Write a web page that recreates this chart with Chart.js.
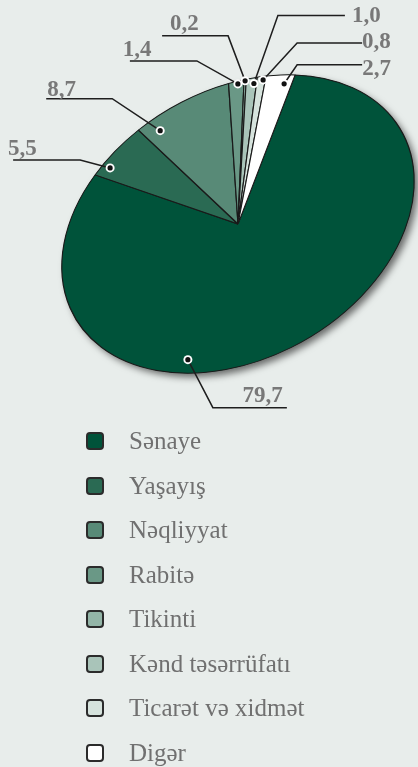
<!DOCTYPE html>
<html>
<head>
<meta charset="utf-8">
<script src="https://cdn.jsdelivr.net/npm/chart.js@4.4.0/dist/chart.umd.min.js"></script>
<style>
html, body { margin:0; padding:0; background:#e8edeb; width:418px; height:767px; overflow:hidden; }
#wrap { position:relative; width:418px; height:767px; }
#pie { position:absolute; left:0; top:0; }
#legend { position:absolute; left:86px; top:419px; margin:0; padding:0; list-style:none;
  font-family:"Liberation Serif","Times New Roman",serif; font-size:25px; color:#707070; }
#legend li { height:44.5px; display:flex; align-items:center; }
#legend .box { width:14px; height:14px; border:2px solid #2b2b2b; border-radius:4px; margin-right:25px; flex:none; }
</style>
</head>
<body>
<div id="wrap">
  <canvas id="pie" width="418" height="420"></canvas>
  <ul id="legend"></ul>
</div>
<script>
// data
const categories = ["Sənaye", "Yaşayış", "Nəqliyyat", "Rabitə", "Tikinti", "Kənd təsərrüfatı", "Ticarət və xidmət", "Digər"];
const shares = [79.7, 5.5, 8.7, 1.4, 0.2, 1.0, 0.8, 2.7];
const valueLabels = ["79,7", "5,5", "8,7", "1,4", "0,2", "1,0", "0,8", "2,7"];
const sliceColors = ["#00533a", "#2a6a53", "#588a77", "#6a9886", "#93b5a7", "#a9c4b9", "#d6e3dd", "#ffffff"];

// where each label sits: position inside slice (t), radius fraction, elbow offset, horizontal run, text offsets
const labelT    = [0.625, 0.21, 0.16, 0.6, 0.5, 0.75, 0.73, 0.72];
const labelR    = [0.91, 0.947, 0.90, 0.98, 0.99, 0.96, 0.976, 0.94];
const elbowDX   = [25, -30, -48, -41, -17, 24, 34, 13];
const elbowDY   = [48, -8, -32, -23, -45, -68, -37, -19];
const runDX     = [74, -67, -66, -67, -66, 67, 65, 65];
const textDX    = [-4, -5, 1, -7, 8, 7, 0, 0];
const textDY    = [-6, -5, -3, -5, -6, 6, 5, 10];
const textAlign = ["right", "left", "left", "left", "left", "left", "left", "left"];

// tilted ellipse the pie is squashed into
const ELL = { cx:238, cy:224, a:188, b:134, tilt:29.8 * Math.PI / 180 };

function toScreen(x, y) {
  y = y * ELL.b / ELL.a;
  const c = Math.cos(ELL.tilt), s = Math.sin(ELL.tilt);
  return { x: ELL.cx + x * c + y * s, y: ELL.cy - x * s + y * c };
}

const ellipsePlugin = {
  id: 'ellipse',
  beforeDatasetsDraw(chart) {
    const ctx = chart.ctx;
    const arc = chart.getDatasetMeta(0).data[0];
    // shadow under the pie
    ctx.save();
    ctx.shadowColor = 'rgba(0,0,0,0.55)';
    ctx.shadowBlur = 7;
    ctx.shadowOffsetX = 4;
    ctx.shadowOffsetY = 4;
    ctx.beginPath();
    ctx.ellipse(ELL.cx, ELL.cy, ELL.a, ELL.b, -ELL.tilt, 0, Math.PI * 2);
    ctx.fillStyle = '#00533a';
    ctx.fill();
    ctx.restore();

    ctx.save();
    const k = ELL.a / arc.outerRadius;
    ctx.translate(ELL.cx, ELL.cy);
    ctx.rotate(-ELL.tilt);
    ctx.scale(k, k * ELL.b / ELL.a);
    ctx.translate(-arc.x, -arc.y);
  },
  afterDatasetsDraw(chart) {
    const ctx = chart.ctx;
    ctx.restore();
    const meta = chart.getDatasetMeta(0);
    meta.data.forEach((arc, i) => {
      const ang = arc.startAngle + labelT[i] * (arc.endAngle - arc.startAngle);
      const r = labelR[i] * ELL.a;
      const p = toScreen(r * Math.cos(ang), r * Math.sin(ang));
      const ex = p.x + elbowDX[i], ey = p.y + elbowDY[i];
      const endX = ex + runDX[i];
      ctx.save();
      ctx.strokeStyle = '#1e1e1e';
      ctx.lineWidth = 1.5;
      ctx.beginPath();
      ctx.moveTo(p.x, p.y);
      ctx.lineTo(ex, ey);
      ctx.lineTo(endX, ey);
      ctx.stroke();
      ctx.fillStyle = '#ffffff';
      ctx.beginPath(); ctx.arc(p.x, p.y, 4.5, 0, Math.PI * 2); ctx.fill();
      ctx.fillStyle = '#111111';
      ctx.beginPath(); ctx.arc(p.x, p.y, 2.6, 0, Math.PI * 2); ctx.fill();
      ctx.font = 'bold 23px "Liberation Serif", serif';
      ctx.fillStyle = '#787878';
      ctx.textAlign = textAlign[i];
      ctx.textBaseline = 'alphabetic';
      ctx.fillText(valueLabels[i], endX + textDX[i], ey + textDY[i]);
      ctx.restore();
    });
  }
};

const chart = new Chart(document.getElementById('pie').getContext('2d'), {
  type: 'pie',
  data: {
    labels: categories,
    datasets: [{
      data: shares,
      backgroundColor: sliceColors,
      borderColor: '#1a1a1a',
      borderWidth: 1.4,
      clip: false
    }]
  },
  options: {
    responsive: false,
    animation: false,
    events: [],
    rotation: 41.1,
    layout: { padding: 0 },
    plugins: { legend: { display: false }, tooltip: { enabled: false } }
  },
  plugins: [ellipsePlugin]
});

// legend
const ul = document.getElementById('legend');
categories.forEach((name, i) => {
  const li = document.createElement('li');
  const box = document.createElement('span');
  box.className = 'box';
  box.style.background = sliceColors[i];
  li.appendChild(box);
  li.appendChild(document.createTextNode(name));
  ul.appendChild(li);
});
</script>
</body>
</html>
